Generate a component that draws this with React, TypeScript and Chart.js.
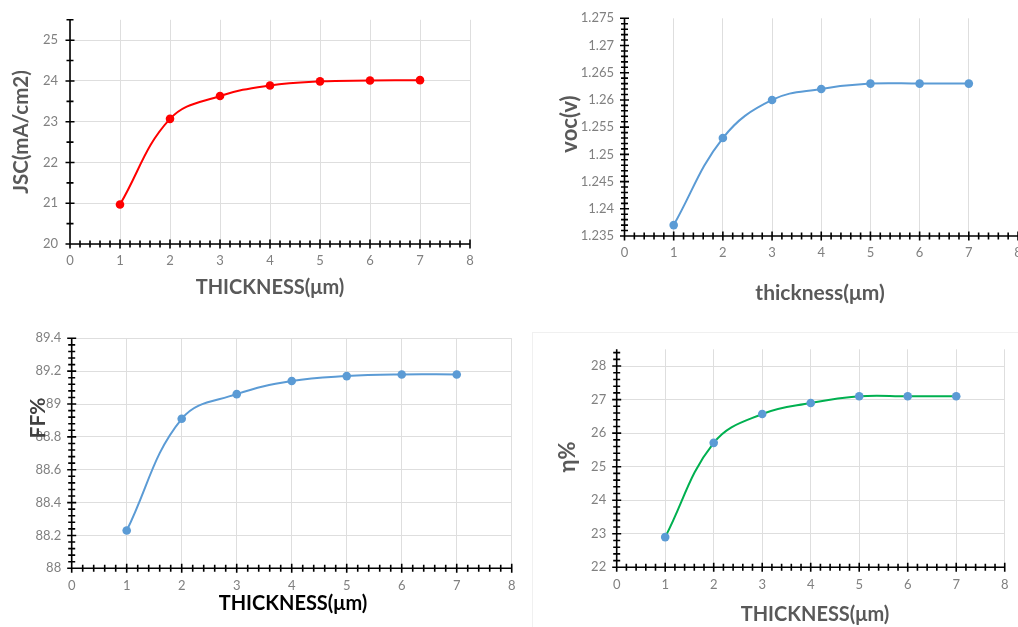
import React, { useEffect, useRef } from 'react';
import { Chart, registerables } from 'chart.js';

Chart.register(...registerables);

// ---- data ----
const thickness = [1, 2, 3, 4, 5, 6, 7];
const jscValues = [20.97, 23.07, 23.63, 23.89, 23.99, 24.01, 24.02];
const vocValues = [1.237, 1.253, 1.26, 1.262, 1.263, 1.263, 1.263];
const ffValues = [88.23, 88.91, 89.06, 89.14, 89.17, 89.18, 89.18];
const etaValues = [22.9, 25.71, 26.57, 26.9, 27.1, 27.1, 27.1];

const xTickValues = [0, 1, 2, 3, 4, 5, 6, 7, 8];
const jscTicks = [20, 21, 22, 23, 24, 25];
const vocTicks = [1.235, 1.24, 1.245, 1.25, 1.255, 1.26, 1.265, 1.27, 1.275];
const ffTicks = [88, 88.2, 88.4, 88.6, 88.8, 89, 89.2, 89.4];
const etaTicks = [22, 23, 24, 25, 26, 27, 28];

type PanelCfg = {
  key: string;
  values: number[];
  yTicks: number[];
  yMin: number;
  yMax: number;
  yMinor: number;
  yMajor: number;
  decimals: number;
  lineColor: string;
  pointColor: string;
  yGrid: boolean;
  xTitle: string;
  yTitle: string;
  xTitleColor: string;
  yTitleColor: string;
  xTitleSize: number;
  yTitleSize: number;
  box: { left: number; top: number; width: number; height: number };
  area: { l: number; t: number; r: number; b: number };
  xTitlePos: [number, number];
  yTitlePos: [number, number];
  yLabelPad: number;
};

const TITLE_FONT = 'Lato, "Open Sans", sans-serif';
const TICK_FONT = 'Lato, "Open Sans", sans-serif';

const panels: PanelCfg[] = [
  {
    key: 'jsc', values: jscValues, yTicks: jscTicks, yMin: 20, yMax: 25.5, yMinor: 0.5, yMajor: 1, decimals: 0,
    lineColor: '#ff0000', pointColor: '#ff0000', yGrid: true,
    xTitle: 'THICKNESS(μm)', yTitle: 'JSC(mA/cm2)', xTitleColor: '#595959', yTitleColor: '#595959',
    xTitleSize: 20, yTitleSize: 20.5,
    box: { left: 0, top: 0, width: 520, height: 318 },
    area: { l: 70, t: 18, r: 470, b: 244 },
    xTitlePos: [270, 288], yTitlePos: [21.5, 132], yLabelPad: 12,
  },
  {
    key: 'voc', values: vocValues, yTicks: vocTicks, yMin: 1.235, yMax: 1.275, yMinor: 0.001, yMajor: 0.005, decimals: 3,
    lineColor: '#5b9bd5', pointColor: '#5b9bd5', yGrid: false,
    xTitle: 'thickness(μm)', yTitle: 'voc(v)', xTitleColor: '#595959', yTitleColor: '#595959',
    xTitleSize: 21, yTitleSize: 22,
    box: { left: 520, top: 0, width: 515, height: 318 },
    area: { l: 104.5, t: 11, r: 498, b: 236 },
    xTitlePos: [300, 293], yTitlePos: [50, 124], yLabelPad: 10.5,
  },
  {
    key: 'ff', values: ffValues, yTicks: ffTicks, yMin: 88, yMax: 89.4, yMinor: 0.04, yMajor: 0.2, decimals: 1,
    lineColor: '#5b9bd5', pointColor: '#5b9bd5', yGrid: true,
    xTitle: 'THICKNESS(μm)', yTitle: 'FF%', xTitleColor: '#000000', yTitleColor: '#404040',
    xTitleSize: 20, yTitleSize: 21,
    box: { left: 0, top: 318, width: 525, height: 309 },
    area: { l: 71.7, t: 20.3, r: 514.3, b: 250.3 },
    xTitlePos: [293, 285.3], yTitlePos: [38, 100], yLabelPad: 10.5,
  },
  {
    key: 'eta', values: etaValues, yTicks: etaTicks, yMin: 22, yMax: 28.5, yMinor: 0.2, yMajor: 1, decimals: 0,
    lineColor: '#00b050', pointColor: '#5b9bd5', yGrid: true,
    xTitle: 'THICKNESS(μm)', yTitle: 'η%', xTitleColor: '#595959', yTitleColor: '#595959',
    xTitleSize: 20, yTitleSize: 22,
    box: { left: 520, top: 318, width: 498, height: 309 },
    area: { l: 96.7, t: 31.3, r: 493.3, b: 249.3 },
    xTitlePos: [295, 297], yTitlePos: [47.5, 139], yLabelPad: 10.5,
  },
];

function makeDecor(p: PanelCfg) {
  return {
    id: 'decor_' + p.key,
    beforeDatasetsDraw(chart: any) {
      const { ctx } = chart;
      const x = chart.scales.x;
      const y = chart.scales.y;
      ctx.save();
      ctx.strokeStyle = '#000000';
      ctx.lineWidth = 1.6;
      ctx.beginPath();
      ctx.moveTo(x.left, y.bottom);
      ctx.lineTo(x.right, y.bottom);
      ctx.moveTo(x.left, y.top);
      ctx.lineTo(x.left, y.bottom);
      const xMinor = 0.2;
      const nx = Math.round((x.max - x.min) / xMinor);
      for (let i = 0; i <= nx; i++) {
        const v = x.min + i * xMinor;
        const px = x.getPixelForValue(v);
        const h = i % 5 === 0 ? 4.5 : 3.5;
        ctx.moveTo(px, y.bottom - h);
        ctx.lineTo(px, y.bottom + h);
      }
      const ny = Math.floor((y.max - y.min) / p.yMinor + 1e-6);
      const every = Math.round(p.yMajor / p.yMinor);
      for (let i = 0; i <= ny; i++) {
        const v = y.min + i * p.yMinor;
        const py = y.getPixelForValue(v);
        const h = i % every === 0 ? 4.5 : 3.5;
        ctx.moveTo(x.left - h, py);
        ctx.lineTo(x.left + h, py);
      }
      ctx.stroke();
      ctx.restore();
    },
    afterDraw(chart: any) {
      const { ctx } = chart;
      ctx.save();
      ctx.textAlign = 'center';
      ctx.textBaseline = 'middle';
      ctx.font = `bold ${p.xTitleSize}px ${TITLE_FONT}`;
      ctx.fillStyle = p.xTitleColor;
      ctx.fillText(p.xTitle, p.xTitlePos[0], p.xTitlePos[1]);
      ctx.translate(p.yTitlePos[0], p.yTitlePos[1]);
      ctx.rotate(-Math.PI / 2);
      ctx.font = `bold ${p.yTitleSize}px ${TITLE_FONT}`;
      ctx.fillStyle = p.yTitleColor;
      ctx.fillText(p.yTitle, 0, 0);
      ctx.restore();
    },
  };
}

function PanelChart({ p }: { p: PanelCfg }) {
  const ref = useRef<HTMLCanvasElement | null>(null);
  useEffect(() => {
    if (!ref.current) return;
    const chart = new Chart(ref.current, {
      type: 'line',
      data: {
        datasets: [
          {
            data: thickness.map((t, i) => ({ x: t, y: p.values[i] })),
            borderColor: p.lineColor,
            backgroundColor: p.pointColor,
            pointBackgroundColor: p.pointColor,
            pointBorderColor: p.pointColor,
            pointRadius: 4.3,
            pointBorderWidth: 0,
            borderWidth: 2,
            tension: 0.4,
            fill: false,
          },
        ],
      },
      options: {
        animation: false,
        responsive: false,
        devicePixelRatio: 1,
        layout: { padding: { left: 0, top: p.area.t, right: p.box.width - p.area.r, bottom: 0 } },
        plugins: { legend: { display: false }, tooltip: { enabled: false } },
        scales: {
          x: {
            type: 'linear',
            min: 0,
            max: 8,
            afterBuildTicks: (axis: any) => {
              axis.ticks = xTickValues.map((v) => ({ value: v }));
            },
            afterFit: (s: any) => {
              s.height = p.box.height - p.area.b;
            },
            grid: { display: true, color: '#dedede', lineWidth: 1, drawTicks: false },
            border: { display: false },
            ticks: {
              autoSkip: false,
              maxRotation: 0,
              padding: 9.5,
              color: '#808080',
              font: { family: TICK_FONT, size: 13 },
              callback: (v: any) => String(v),
            },
          },
          y: {
            type: 'linear',
            min: p.yMin,
            max: p.yMax,
            afterBuildTicks: (axis: any) => {
              axis.ticks = p.yTicks.map((v) => ({ value: v }));
            },
            afterFit: (s: any) => {
              s.width = p.area.l;
            },
            grid: { display: p.yGrid, color: '#dedede', lineWidth: 1, drawTicks: false },
            border: { display: false },
            ticks: {
              autoSkip: false,
              padding: p.yLabelPad,
              color: '#808080',
              font: { family: TICK_FONT, size: 13 },
              callback: (v: any) => String(+Number(v).toFixed(p.decimals)),
            },
          },
        },
      },
      plugins: [makeDecor(p)],
    } as any);
    return () => chart.destroy();
  }, [p]);
  return (
    <canvas
      ref={ref}
      width={p.box.width}
      height={p.box.height}
      style={{
        position: 'absolute',
        left: p.box.left,
        top: p.box.top,
        width: p.box.width,
        height: p.box.height,
      }}
    />
  );
}

export default function App() {
  return (
    <div
      style={{
        position: 'fixed',
        left: 0,
        top: 0,
        width: 1018,
        height: 627,
        overflow: 'hidden',
        background: '#ffffff',
      }}
    >
      <div
        style={{
          position: 'absolute',
          left: 532,
          top: 332,
          width: 500,
          height: 320,
          border: '1px solid #f0f0f0',
          boxSizing: 'border-box',
        }}
      />
      {panels.map((p) => (
        <PanelChart key={p.key} p={p} />
      ))}
    </div>
  );
}
